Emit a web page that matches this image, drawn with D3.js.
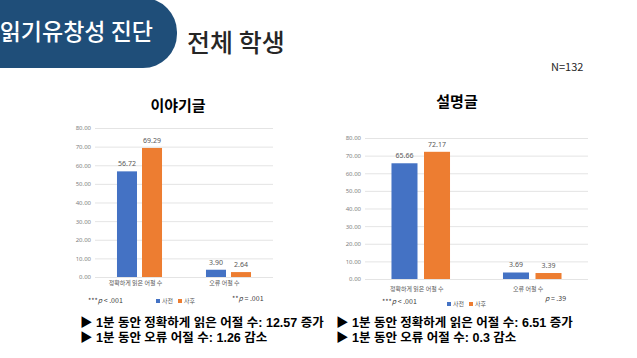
<!DOCTYPE html>
<html><head><meta charset="utf-8">
<script src="https://cdn.jsdelivr.net/npm/d3@7"></script>
<style>
html,body{margin:0;padding:0;background:#fff;}
svg{display:block;font-family:"Noto Sans CJK KR","Noto Sans",sans-serif;}
</style></head>
<body>
<script>
const categories = ["정확하게 읽은 어절 수", "오류 어절 수"];
const seriesNames = ["사전", "사후"];
const storyPre = [56.72, 3.90];
const storyPost = [69.29, 2.64];
const expoPre = [65.66, 3.69];
const expoPost = [72.17, 3.39];
const yTicks = [0, 10, 20, 30, 40, 50, 60, 70, 80];
const colors = ["#4472C4", "#ED7D31"];
const summaryLeft = ["▶ 1분 동안 정확하게 읽은 어절 수: 12.57 증가", "▶ 1분 동안 오류 어절 수: 1.26 감소"];
const summaryRight = ["▶ 1분 동안 정확하게 읽은 어절 수: 6.51 증가", "▶ 1분 동안 오류 어절 수: 0.3 감소"];

const W = 637, H = 358;
const svg = d3.select("body").append("svg").attr("width", W).attr("height", H);

// Header banner
svg.append("rect").attr("x", -60).attr("y", -2).attr("width", 237).attr("height", 70)
  .attr("rx", 34).attr("fill", "#1F4E79");
svg.append("text").attr("x", 153).attr("y", 40).attr("text-anchor", "end")
  .attr("font-size", 23).attr("font-weight", 500).attr("fill", "#fff").text("읽기유창성 진단");
svg.append("text").attr("x", 187).attr("y", 52)
  .attr("font-size", 25).attr("font-weight", 500).attr("fill", "#262626").text("전체 학생");
svg.append("text").attr("x", 551).attr("y", 71)
  .attr("font-size", 11).attr("fill", "#262626").text("N=132");

function drawChart(cfg) {
  const g = svg.append("g");
  const y = d3.scaleLinear().domain([0, 80]).range([cfg.y0, cfg.y80]);
  const x0 = d3.scaleBand().domain(categories).range([cfg.xl, cfg.xr])
    .paddingInner(cfg.pad).paddingOuter(cfg.pad / 2);
  const x1 = d3.scaleBand().domain(seriesNames).range([0, x0.bandwidth()])
    .paddingInner(0.2).paddingOuter(0);

  g.append("text").attr("x", cfg.tx).attr("y", cfg.ty).attr("text-anchor", "middle")
    .attr("font-size", 15).attr("font-weight", 700).attr("fill", "#000").text(cfg.title);

  const axis = d3.axisLeft(y).tickValues(yTicks).tickSize(-(cfg.xr - cfg.xl))
    .tickFormat(d3.format(".2f")).tickPadding(4);
  const ax = g.append("g").attr("transform", `translate(${cfg.xl},0)`).call(axis);
  ax.select(".domain").remove();
  ax.selectAll(".tick line").attr("stroke", "#D9D9D9").attr("stroke-width", 0.7);
  ax.selectAll(".tick text").attr("font-size", 6).attr("fill", "#7F7F7F")
    .attr("font-family", "'Noto Sans','Noto Sans CJK KR',sans-serif");

  const data = [cfg.pre, cfg.post];
  categories.forEach((c, ci) => {
    seriesNames.forEach((s, si) => {
      const v = data[si][ci];
      const bx = x0(c) + x1(s);
      g.append("rect").attr("x", bx).attr("y", y(v)).attr("width", x1.bandwidth())
        .attr("height", y(0) - y(v)).attr("fill", colors[si]);
      g.append("text").attr("x", bx + x1.bandwidth() / 2).attr("y", y(v) - 5)
        .attr("text-anchor", "middle").attr("font-size", 7).attr("fill", "#595959")
        .attr("font-family", "'Noto Sans',sans-serif").text(v.toFixed(2));
    });
    g.append("text").attr("x", x0(c) + x0.bandwidth() / 2 - 4).attr("y", cfg.cy)
      .attr("text-anchor", "middle").attr("font-size", 6).attr("fill", "#595959").text(c);
  });

  const f1 = g.append("text").attr("x", cfg.f1x).attr("y", cfg.f1y).attr("font-size", 7).attr("fill", "#404040");
  f1.append("tspan").text("***");
  f1.append("tspan").attr("font-style", "italic").text("p");
  f1.append("tspan").text(" < .001");
  const f2 = g.append("text").attr("x", cfg.f2x).attr("y", cfg.f2y).attr("font-size", 7).attr("fill", "#404040");
  f2.append("tspan").text(cfg.f2stars);
  f2.append("tspan").attr("font-style", "italic").text("p");
  f2.append("tspan").text(cfg.f2text);

  let lx = cfg.lx;
  seriesNames.forEach((s, si) => {
    g.append("rect").attr("x", lx).attr("y", cfg.ly - 4).attr("width", 4).attr("height", 4).attr("fill", colors[si]);
    g.append("text").attr("x", lx + 6).attr("y", cfg.ly).attr("font-size", 6).attr("fill", "#595959").text(s);
    lx += 22;
  });
}

drawChart({title: "이야기글", tx: 178, ty: 111, xl: 95, xr: 273, y0: 277, y80: 128, pad: 0.494,
  pre: storyPre, post: storyPost, cy: 285,
  f1x: 88, f1y: 303, f2x: 232, f2y: 301, f2stars: "**", f2text: " = .001", lx: 156, ly: 303});
drawChart({title: "설명글", tx: 457, ty: 107, xl: 365, xr: 588, y0: 279, y80: 138, pad: 0.475,
  pre: expoPre, post: expoPost, cy: 291,
  f1x: 382, f1y: 304, f2x: 545, f2y: 301, f2stars: "", f2text: " = .39", lx: 447, ly: 306});

// bottom summary lines
[[80, summaryLeft], [336, summaryRight]].forEach(([x, arr]) => {
  arr.forEach((line, i) => svg.append("text").attr("x", x).attr("y", 327 + i * 14.5)
    .attr("font-family", "'Liberation Sans','Noto Sans CJK KR',sans-serif")
    .attr("font-size", 12.5).attr("font-weight", 700).attr("fill", "#000").text(line));
});
</script>
</body></html>
